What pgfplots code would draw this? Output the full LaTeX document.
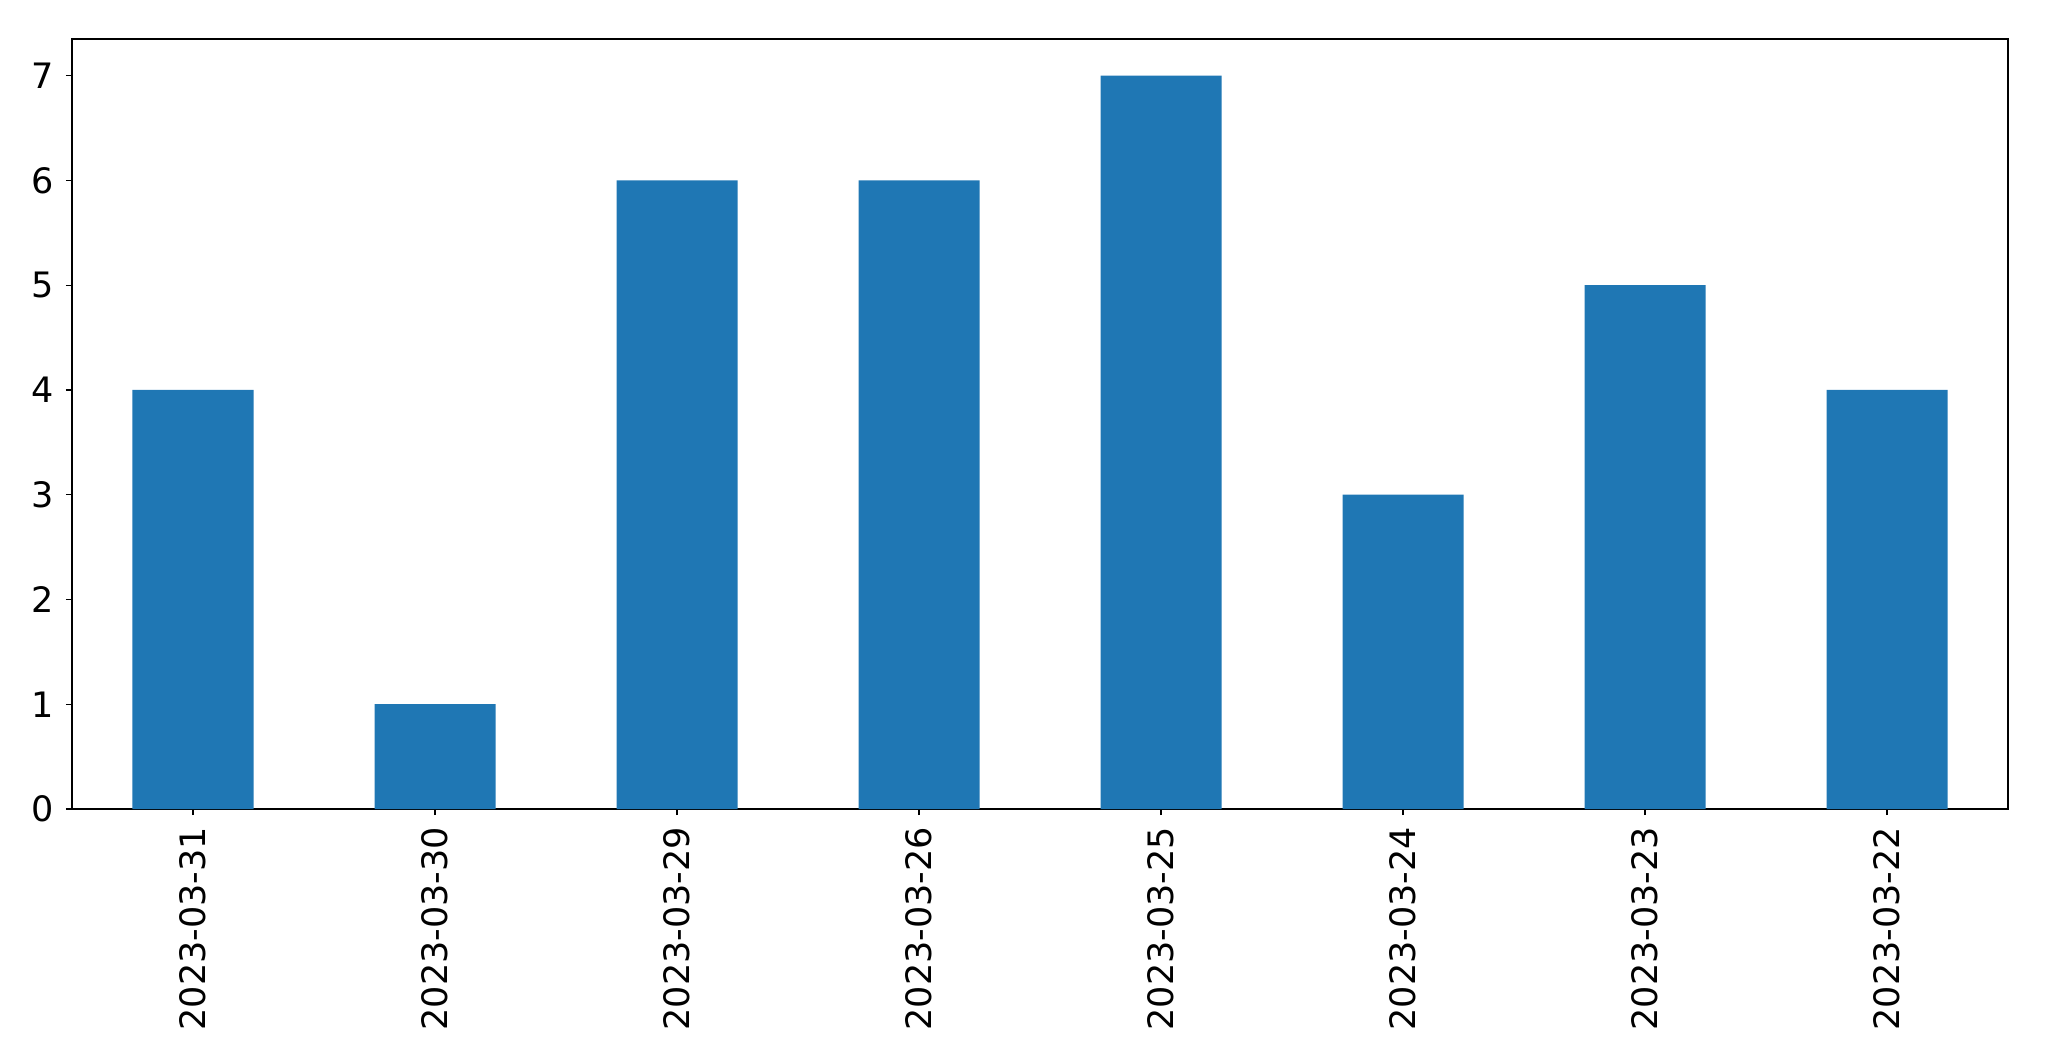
\documentclass[border=0pt]{standalone}
\usepackage{pgfplots}
\pgfplotsset{compat=1.18}
\usepackage{fontspec}
\setmainfont{DejaVu Sans}
\definecolor{mplblue}{HTML}{1F77B4}
\begin{document}
\fontsize{17.5}{20}\selectfont
\begin{tikzpicture}
\useasboundingbox (-36pt,-126pt) rectangle (988.5pt,404.5pt);
\begin{axis}[
  scale only axis,
  width=968pt, height=385pt,
  xmin=-0.5, xmax=7.5, ymin=0, ymax=7.35,
  xtick=data,
  xticklabels={2023-03-31,2023-03-30,2023-03-29,2023-03-26,2023-03-25,2023-03-24,2023-03-23,2023-03-22},
  x tick label style={rotate=90, anchor=east},
  ytick={0,1,2,3,4,5,6,7},
  tick align=outside,
  major tick length=3pt,
  tick style={black, line width=0.55pt},
  axis line style={line width=0.55pt},
  xtick pos=bottom, ytick pos=left,
  ticklabel style={font=\fontsize{17.5}{20}\selectfont},
  /pgf/number format/assume math mode=true,
]
\addplot[ybar, bar width=0.5, fill=mplblue, draw=none] coordinates {
(0,4) (1,1) (2,6) (3,6) (4,7) (5,3) (6,5) (7,4)
};
\end{axis}
\end{tikzpicture}
\end{document}
